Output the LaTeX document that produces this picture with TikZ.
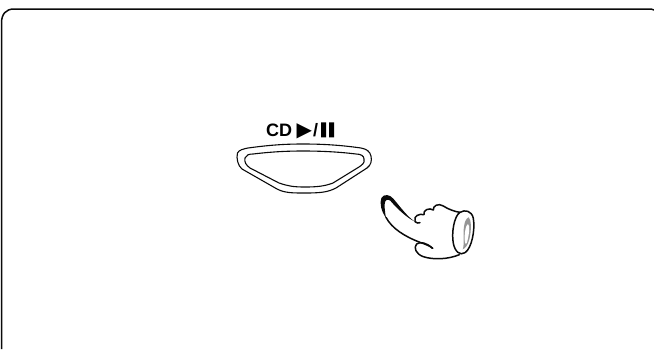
\documentclass[tikz,border=0pt]{standalone}
\usepackage{fontspec}
\setmainfont{Liberation Sans}
\newfontfamily\symfont{DejaVu Sans}
\newfontfamily\barfont[FakeBold=14]{Liberation Sans}
\usetikzlibrary{positioning}
\definecolor{ink}{RGB}{10,10,10}
\definecolor{cuffgray}{RGB}{150,150,150}
\tikzset{
  outline/.style={ink, line width=1.1pt, line join=round, line cap=round},
  handline/.style={ink, line width=1.5pt, line join=round, line cap=round},
}
\begin{document}
\begin{tikzpicture}[x=1pt, y=-1pt]
  \useasboundingbox (0,0) rectangle (654,349);
  % frame
  \draw[ink, line width=1.5pt] (1.5,349) -- (1.5,23) .. controls (1.5,14) and (6,9) .. (14,9) -- (651,9) -- (654,10);
  % label
  \node[font=\bfseries\fontsize{18}{18}\selectfont, inner sep=0pt, anchor=base west] (cdlabel) at (266,136) {CD\hspace{4.5pt}{\symfont\fontsize{20}{20}\selectfont ▶}\hspace{1pt}/\hspace{3pt}{\barfont I\hspace{3pt}I}};
  % button
  \draw[outline] (237.5,153) .. controls (239,150) and (243,149) .. (248,148) .. controls (270,145) and (285,144) .. (303,144) .. controls (322,144) and (340,145) .. (361,148) .. controls (366,149) and (370,151) .. (371,156) .. controls (372,161) and (371,165) .. (367,168) -- (336,188) .. controls (328,192) and (322,193) .. (305,193) .. controls (292,193) and (285,193) .. (277,189) -- (242,169) .. controls (238,166) and (236,158) .. (237.5,153) -- cycle;
  \draw[outline] (245,158) .. controls (246,155) and (249,154) .. (253,154) .. controls (270,152) and (285,151) .. (303,151) .. controls (322,151) and (340,152) .. (356,154) .. controls (361,154) and (364,156) .. (364,159) .. controls (365,163) and (362,165) .. (359,167) -- (333,183) .. controls (325,186) and (318,187) .. (305,187) .. controls (293,187) and (288,186) .. (279,183) -- (250,168) .. controls (246,165) and (244,162) .. (245,158) -- cycle;
  % hand
  \begin{scope}[shift={(370,180)}, scale=1/3]
    \fill[ink] (135,125) .. controls (112,110) and (92,82) .. (70,56) .. controls (60,44) and (42,40) .. (34,54) .. controls (28,70) and (34,94) .. (48,114) .. controls (44,92) and (42,72) .. (46,64) .. controls (50,56) and (60,58) .. (66,68) .. controls (88,92) and (112,114) .. (135,125) -- cycle;
    \draw[handline] (48,112) .. controls (65,145) and (105,170) .. (150,187) .. controls (165,192) and (180,198) .. (188,205);
    \draw[handline] (188,205) .. controls (170,188) and (150,184) .. (140,192) .. controls (130,202) and (137,222) .. (160,230) .. controls (190,240) and (235,238) .. (268,224);
    \draw[handline] (135,125) .. controls (138,130) and (148,130) .. (150,128);
    \draw[handline] (135,122) .. controls (130,108) and (148,100) .. (162,104) .. controls (158,90) and (178,82) .. (190,90) .. controls (188,78) and (205,68) .. (220,78) .. controls (235,88) and (255,95) .. (270,97);
    \draw[handline] (270,97) .. controls (285,88) and (305,92) .. (310,115) .. controls (316,150) and (305,205) .. (285,218) .. controls (270,228) and (255,215) .. (250,190) .. controls (244,160) and (252,108) .. (270,97) -- cycle;
    \fill[cuffgray] (296,112) .. controls (304,118) and (305,150) .. (298,178) .. controls (294,195) and (286,205) .. (278,208) .. controls (284,195) and (278,165) .. (282,140) .. controls (284,125) and (288,115) .. (296,112) -- cycle;
    \fill[white] (294,132) .. controls (300,135) and (298,165) .. (290,190) .. controls (284,200) and (282,170) .. (286,150) .. controls (288,140) and (290,134) .. (294,132) -- cycle;
  \end{scope}
\end{tikzpicture}
\end{document}
